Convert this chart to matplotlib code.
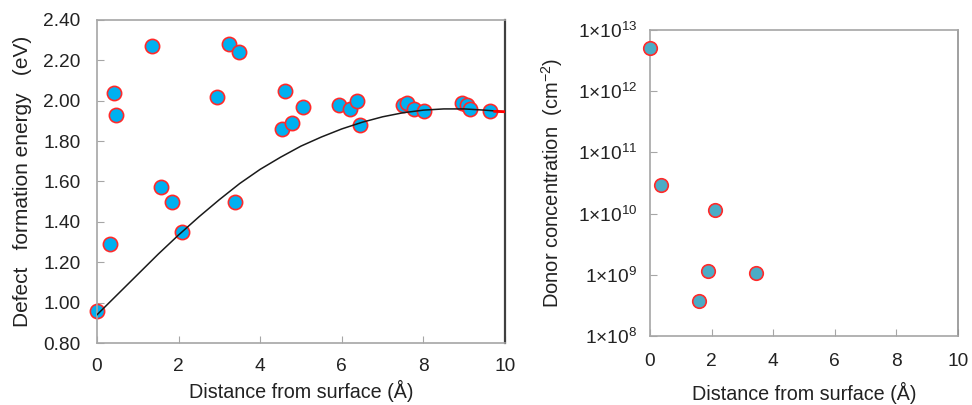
import math
import matplotlib
matplotlib.use("Agg")
import matplotlib.pyplot as plt
from matplotlib.ticker import FixedLocator, NullLocator, FuncFormatter

plt.rcParams["font.family"] = ["Liberation Sans", "DejaVu Sans"]
plt.rcParams["mathtext.fontset"] = "custom"
plt.rcParams["mathtext.rm"] = "Liberation Sans"
plt.rcParams["mathtext.it"] = "Liberation Sans:italic"

# 左: 欠陥形成エネルギー (eV) vs 表面からの距離 (Å)
dist_e = [0.00, 0.33, 0.41, 0.47, 1.36, 1.57, 1.84, 2.08, 2.95, 3.23, 3.48, 3.39,
          4.53, 4.60, 4.78, 5.04, 5.93, 6.19, 6.37, 6.44, 7.49, 7.59, 7.78, 8.02,
          8.94, 9.06, 9.14, 9.63]
energy = [0.96, 1.29, 2.04, 1.93, 2.27, 1.57, 1.50, 1.35, 2.02, 2.28, 2.24, 1.50,
          1.86, 2.05, 1.89, 1.97, 1.98, 1.96, 2.00, 1.88, 1.98, 1.99, 1.96, 1.95,
          1.99, 1.98, 1.96, 1.95]

# フィット曲線
fit_x = [0, 0.5, 1, 1.5, 2, 2.5, 3, 3.5, 4, 4.5, 5, 5.5, 6, 6.5, 7, 7.5, 8, 8.5,
         9, 9.5, 10]
fit_y = [0.94, 1.04, 1.14, 1.24, 1.335, 1.425, 1.51, 1.59, 1.66, 1.72, 1.775, 1.82,
         1.86, 1.893, 1.92, 1.94, 1.953, 1.959, 1.959, 1.953, 1.945]
tail_x = [9.75, 10]
tail_y = [1.947, 1.945]

# 右: ドナー濃度 (cm-2)
dist_d = [0.00, 0.35, 2.10, 1.87, 3.43, 1.60]
donor = [5.0e12, 2.9e10, 1.15e10, 1.17e9, 1.08e9, 3.7e8]

xticks = [0, 2, 4, 6, 8, 10]
eticks = [0.80, 1.00, 1.20, 1.40, 1.60, 1.80, 2.00, 2.20, 2.40]
dticks = [1e8, 1e9, 1e10, 1e11, 1e12, 1e13]

GRAY = "#a6a6a6"
TXT = "#222222"

fig = plt.figure(figsize=(9.72, 4.05), dpi=100)

# 左グラフ ####
ax = fig.add_axes([0.0998, 0.153, 0.4197, 0.798])
ax.scatter(dist_e, energy, s=105, facecolor="#00b0f0", edgecolor="#ff2a2a",
           linewidth=1.2, zorder=2, clip_on=False)
ax.plot(fit_x, fit_y, color="#1a1a1a", lw=1.1, zorder=3)
ax.plot(tail_x, tail_y, color="#ff0000", lw=2, zorder=3)
ax.set_xlim(0, 10)
ax.set_ylim(0.80, 2.40)
ax.xaxis.set_major_locator(FixedLocator(xticks))
ax.yaxis.set_major_locator(FixedLocator(eticks))
ax.yaxis.set_major_formatter(FuncFormatter(lambda v, p: "%.2f" % v))
ax.set_xlabel("Distance from surface (Å)", fontsize=14.2, color=TXT, labelpad=3)
ax.set_ylabel("Defect   formation energy   (eV)", fontsize=15, color=TXT, labelpad=8)
ax.tick_params(direction="in", length=5, color=GRAY, labelsize=13.8,
               labelcolor=TXT, top=False, right=False)
ax.tick_params(axis="x", pad=11)
ax.tick_params(axis="y", pad=12)
for s in ["left", "top", "bottom"]:
    ax.spines[s].set_color(GRAY)
    ax.spines[s].set_linewidth(1.2)
ax.spines["right"].set_color("#404040")
ax.spines["right"].set_linewidth(1.6)

# 右グラフ ####
ax2 = fig.add_axes([0.6687, 0.1704, 0.3169, 0.7556])
ax2.scatter(dist_d, donor, s=95, facecolor="#4bacc6", edgecolor="#ff2a2a",
            linewidth=1.2, zorder=3, clip_on=False)
ax2.set_yscale("log")
ax2.set_xlim(0, 10)
ax2.set_ylim(1e8, 1e13)
ax2.xaxis.set_major_locator(FixedLocator(xticks))
ax2.yaxis.set_major_locator(FixedLocator(dticks))
ax2.yaxis.set_minor_locator(NullLocator())
ax2.yaxis.set_major_formatter(
    FuncFormatter(lambda v, p: "1×10$^{%d}$" % round(math.log10(v))))
ax2.set_xlabel("Distance from surface (Å)", fontsize=14.2, color=TXT, labelpad=9)
ax2.set_ylabel("Donor concentration  (cm$^{-2}$)", fontsize=14.5, color=TXT,
               labelpad=9)
ax2.tick_params(direction="in", length=5, color=GRAY, labelsize=13.8,
                labelcolor=TXT)
ax2.tick_params(axis="x", pad=12)
ax2.tick_params(axis="y", pad=9)
for s in ax2.spines.values():
    s.set_color(GRAY)
    s.set_linewidth(1.2)
ax2.spines["right"].set_color("#909090")

fig.savefig("out.png", dpi=100)
